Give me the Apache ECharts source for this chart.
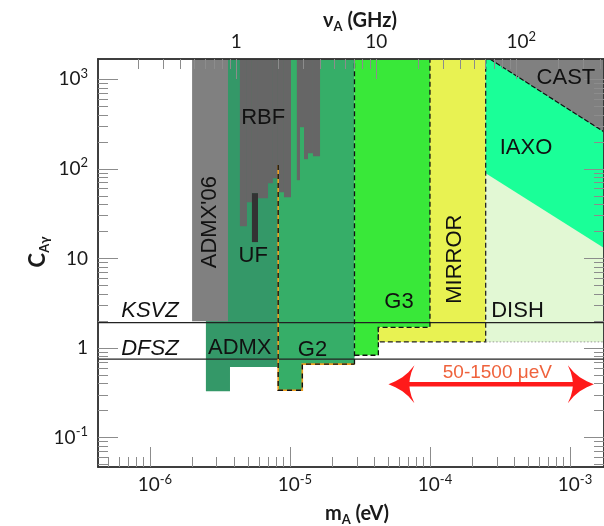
<!DOCTYPE html>
<html>
<head>
<meta charset="utf-8">
<script src="https://cdn.jsdelivr.net/npm/echarts@6/dist/echarts.min.js"></script>
<style>
  html, body { margin: 0; padding: 0; background: #fff; }
  #chart { width: 604px; height: 526px; }
</style>
</head>
<body>
<div id="chart"></div>
<script>
  // plot window: axion mass m_A (eV) and coupling C_Agamma
  const massRange = [4.256e-7, 1.75e-3]
  const coupRange = [0.047, 1679]
  const TOP = coupRange[1]
  const RIGHT = massRange[1]

  // tick labels
  const massTicks = [1e-6, 1e-5, 1e-4, 1e-3]
  const massTickLabels = ['10{s|-6}', '10{s|-5}', '10{s|-4}', '10{s|-3}']
  const freqTicks = [1, 10, 100] // GHz
  const freqTickLabels = ['1', '10', '10{s|2}']
  const coupTicks = [0.1, 1, 10, 100, 1000]
  const coupTickLabels = ['10{s|-1}', '1', '10', '10{s|2}', '10{s|3}']

  // model lines
  const ksvz = 1.92
  const dfsz = 0.75

  // excluded / projected regions, corners as [m (eV), C]
  const admx06 = [[2.0e-6, 1.99], [3.61e-6, 1.99], [3.61e-6, TOP], [2.0e-6, TOP]]
  const admx = [[2.51e-6, TOP], [2.51e-6, 0.33], [3.73e-6, 0.33], [3.73e-6, 0.615], [8.24e-6, 0.615], [8.24e-6, TOP]]
  const g2 = [[8.24e-6, TOP], [8.24e-6, 0.338], [1.225e-5, 0.338], [1.225e-5, 0.66], [2.89e-5, 0.66], [2.89e-5, TOP]]
  const g3 = [[2.89e-5, TOP], [2.89e-5, 0.83], [4.28e-5, 0.83], [4.28e-5, 1.7], [1.0e-4, 1.7], [1.0e-4, TOP]]
  const mirror = [[4.28e-5, 1.7], [4.28e-5, 1.17], [2.5e-4, 1.17], [2.5e-4, TOP], [1.0e-4, TOP], [1.0e-4, 1.7]]
  const dish = [[2.5e-4, 1.17], [RIGHT, 1.17], [RIGHT, TOP], [2.5e-4, TOP]]
  const iaxo = [[2.5e-4, TOP], [2.5e-4, 89], [RIGHT, 13.1], [RIGHT, TOP]]
  const cast = [[2.68e-4, TOP], [RIGHT, 258], [RIGHT, TOP]]
  const uf = [[5.35e-6, 15.2], [5.91e-6, 15.2], [5.91e-6, 53.5], [5.35e-6, 53.5]]

  // RBF: [m from, m to, lower C] (filled up to the top)
  const rbfBins = [
    [4.39e-6, 4.93e-6, 22.9],
    [4.93e-6, 5.35e-6, 42.4],
    [5.35e-6, 5.91e-6, 53.5],
    [5.91e-6, 6.97e-6, 47],
    [6.97e-6, 7.56e-6, 69],
    [7.56e-6, 8.21e-6, 78.5],
    [8.21e-6, 9.06e-6, 54.8],
    [9.06e-6, 1.017e-5, 48.2],
    [1.12e-5, 1.18e-5, 74.6],
    [1.18e-5, 1.26e-5, 291],
    [1.26e-5, 1.345e-5, 128],
    [1.345e-5, 1.46e-5, 149],
    [1.46e-5, 1.64e-5, 138]
  ]

  // dashed boundaries
  const g2Edge = [[8.24e-6, 110], [8.24e-6, 0.338], [1.225e-5, 0.338], [1.225e-5, 0.66], [2.89e-5, 0.66]]
  const g2Right = [[2.89e-5, 0.66], [2.89e-5, TOP]]
  const g3Edge = [[2.89e-5, 0.83], [4.28e-5, 0.83], [4.28e-5, 1.7], [1.0e-4, 1.7], [1.0e-4, TOP]]
  const mirrorEdge = [[4.28e-5, 1.7], [4.28e-5, 1.17], [2.5e-4, 1.17], [2.5e-4, TOP]]
  const castEdge = [[2.68e-4, TOP], [RIGHT, 258]]
  const dishEdge = [[2.5e-4, 1.17], [RIGHT, 1.17]]

  // annotation
  const arrowSpan = [5.05e-5, 1.48e-3]
  const arrowC = 0.394

  const regionLabels = [
    { text: 'RBF', m: 6.44e-6, c: 372 },
    { text: "ADMX'06", m: 2.70e-6, c: 25.4, rot: true },
    { text: 'UF', m: 5.47e-6, c: 10.7 },
    { text: 'ADMX', m: 4.38e-6, c: 1.0 },
    { text: 'G2', m: 1.45e-5, c: 0.96 },
    { text: 'G3', m: 6.01e-5, c: 3.24 },
    { text: 'MIRROR', m: 1.51e-4, c: 9.8, rot: true },
    { text: 'DISH', m: 4.22e-4, c: 2.61 },
    { text: 'IAXO', m: 4.85e-4, c: 172 },
    { text: 'CAST', m: 9.36e-4, c: 1026 },
    { text: 'KSVZ', m: 1.0e-6, c: 2.58, italic: true },
    { text: 'DFSZ', m: 1.0e-6, c: 0.97, italic: true },
    { text: '50-1500 \u03bceV', m: 3.03e-4, c: 0.53, color: '#ef623c', size: 19 }
  ]

  const lg = Math.log10
  const EV_PER_GHZ = 4.1357e-6
  const XMIN = lg(massRange[0]), XMAX = lg(massRange[1])
  const YMIN = lg(coupRange[0]), YMAX = lg(coupRange[1])
  const FMIN = XMIN - lg(EV_PER_GHZ), FMAX = XMAX - lg(EV_PER_GHZ)

  function minorTicks(lo, hi) {
    const out = []
    for (let n = Math.floor(lo); n <= Math.ceil(hi); n++) {
      for (let k = 2; k <= 9; k++) {
        const v = n + lg(k)
        if (v > lo && v < hi) out.push(v)
      }
    }
    return out
  }

  function pickLabel(ticks, labels) {
    return function (v) {
      const i = ticks.findIndex(t => Math.abs(lg(t) - v) < 1e-6)
      return i < 0 ? '' : labels[i]
    }
  }

  const tickFont = 'Lato'
  const rich = {
    s: { fontSize: 13, lineHeight: 13, verticalAlign: 'top', fontFamily: tickFont, color: '#1a1a1a' },
    h: { width: 10 }
  }

  function axis(pos, min, max, values, len, label) {
    return {
      type: 'value', position: pos, min: min, max: max, z: 5,
      axisLine: { show: true, onZero: false, lineStyle: { color: '#333', width: 1.5 } },
      axisTick: { show: true, inside: true, length: len, customValues: values, lineStyle: { color: '#8c8c8c', width: 1 } },
      axisLabel: label ? Object.assign({
        show: true, customValues: values, color: '#1a1a1a', fontFamily: tickFont, fontSize: 19,
        lineHeight: 24, rich: rich
      }, label) : { show: false },
      splitLine: { show: false },
      minorTick: { show: false }
    }
  }

  const massMajor = massTicks.map(lg)
  const freqMajor = freqTicks.map(lg)
  const coupMajor = coupTicks.map(lg)

  const xAxes = [
    axis('bottom', XMIN, XMAX, massMajor, 20, {
      margin: 6, formatter: v => '{h|}' + pickLabel(massTicks, massTickLabels)(v)
    }),
    axis('bottom', XMIN, XMAX, minorTicks(XMIN, XMAX), 10),
    axis('top', FMIN, FMAX, freqMajor, 20, {
      margin: 5, formatter: v => { const t = pickLabel(freqTicks, freqTickLabels)(v); return t.indexOf('{') >= 0 ? '{h|}' + t : t }
    }),
    axis('top', FMIN, FMAX, minorTicks(FMIN, FMAX), 10)
  ]
  const yAxes = [
    axis('left', YMIN, YMAX, coupMajor, 20, { margin: 10, formatter: pickLabel(coupTicks, coupTickLabels) }),
    axis('left', YMIN, YMAX, minorTicks(YMIN, YMAX), 10),
    axis('right', YMIN, YMAX, coupMajor, 20),
    axis('right', YMIN, YMAX, minorTicks(YMIN, YMAX), 10)
  ]

  const fills = [
    { pts: dish, color: '#e2f8d4' },
    { pts: admx, color: '#349868' },
    { pts: g2, color: '#36ae68' },
    { pts: g3, color: '#39e839' },
    { pts: mirror, color: '#e8f252' },
    { pts: iaxo, color: '#1aff98' },
    { pts: cast, color: '#808080' },
    { pts: admx06, color: '#808080' }
  ]
  rbfBins.forEach(b => fills.push({ pts: [[b[0], b[2]], [b[1], b[2]], [b[1], TOP], [b[0], TOP]], color: '#666666' }))
  fills.push({ pts: uf, color: '#333333' })

  const edges = [
    { pts: g2Edge, color: '#f0a020', width: 1.6 },
    { pts: g2Edge, color: '#111', width: 1.4, dash: [5, 4] },
    { pts: g2Right, color: '#111', width: 1.3, dash: [5, 3] },
    { pts: g3Edge, color: '#111', width: 1.3, dash: [5, 3] },
    { pts: mirrorEdge, color: '#222', width: 1.3, dash: [5, 3] },
    { pts: castEdge, color: '#111', width: 1.2, dash: [5, 2] },
    { pts: dishEdge, color: '#999', width: 1, dash: [1.5, 2] }
  ]

  function toPx(api, p) {
    return api.coord([lg(p[0]), lg(p[1])])
  }

  const anchor = [lg(1e-5), 0]
  const chart = echarts.init(document.getElementById('chart'), null, { renderer: 'canvas' })

  const nameRich = {
    b: { fontFamily: tickFont, fontWeight: 'bold', fontSize: 20, fill: '#1a1a1a', lineHeight: 24 },
    u: { fontFamily: tickFont, fontWeight: 'bold', fontSize: 13, fill: '#1a1a1a', lineHeight: 13, verticalAlign: 'bottom' }
  }

  chart.setOption({
    animation: false,
    backgroundColor: '#fff',
    grid: { left: 98, top: 59, right: 0, bottom: 59, containLabel: false },
    xAxis: xAxes,
    yAxis: yAxes,
    graphic: [
      { type: 'text', x: 360, y: 21, style: { text: '{b|\u03bd}{u|A}{b| (GHz)}', align: 'center', verticalAlign: 'middle', rich: nameRich } },
      { type: 'text', x: 357, y: 514, style: { text: '{b|m}{u|A}{b| (eV)}', align: 'center', verticalAlign: 'middle', rich: nameRich } },
      {
        type: 'text', x: 38, y: 252, rotation: Math.PI / 2,
        style: {
          text: '{c|C}{u|A\u03b3}', align: 'center', verticalAlign: 'middle',
          rich: Object.assign({ c: { fontFamily: tickFont, fontWeight: 'bold', fontSize: 22, fill: '#1a1a1a', lineHeight: 26 } }, nameRich)
        }
      }
    ],
    series: [
      {
        type: 'custom', name: 'regions', silent: true, z: 2,
        data: fills.map(() => anchor),
        renderItem: function (params, api) {
          const r = fills[params.dataIndex]
          return { type: 'polygon', shape: { points: r.pts.map(p => toPx(api, p)) }, style: { fill: r.color } }
        }
      },
      {
        type: 'line', name: 'KSVZ', silent: true, z: 3, symbol: 'none',
        data: [[XMIN, lg(ksvz)], [XMAX, lg(ksvz)]],
        lineStyle: { color: '#222', width: 1.2 }
      },
      {
        type: 'line', name: 'DFSZ', silent: true, z: 3, symbol: 'none',
        data: [[XMIN, lg(dfsz)], [XMAX, lg(dfsz)]],
        lineStyle: { color: '#222', width: 1.2 }
      },
      {
        type: 'custom', name: 'edges', silent: true, z: 4,
        data: edges.map(() => anchor),
        renderItem: function (params, api) {
          const e = edges[params.dataIndex]
          return {
            type: 'polyline', shape: { points: e.pts.map(p => toPx(api, p)) },
            style: { fill: null, stroke: e.color, lineWidth: e.width, lineDash: e.dash || null }
          }
        }
      },
      {
        type: 'custom', name: 'arrow', silent: true, z: 6,
        data: [anchor],
        renderItem: function (params, api) {
          const a = api.coord([lg(arrowSpan[0]), lg(arrowC)])
          const b = api.coord([lg(arrowSpan[1]), lg(arrowC)])
          // swept arrow head, tip at origin pointing left
          const head = [[0, 0], [7, -3], [14, -7], [20, -12], [26, -19], [23, -12], [21.5, -6], [21, -2],
            [21, 2], [21.5, 6], [23, 12], [26, 19], [20, 12], [14, 7], [7, 3]]
          const red = '#ff1a1a'
          return {
            type: 'group',
            children: [
              { type: 'line', shape: { x1: a[0] + 15, y1: a[1], x2: b[0] - 15, y2: b[1] }, style: { stroke: red, lineWidth: 4.3 } },
              { type: 'polygon', shape: { points: head.map(p => [a[0] + p[0], a[1] + p[1]]) }, style: { fill: red } },
              { type: 'polygon', shape: { points: head.map(p => [b[0] - p[0], b[1] + p[1]]) }, style: { fill: red } }
            ]
          }
        }
      },
      {
        type: 'custom', name: 'labels', silent: true, z: 7,
        data: regionLabels.map(() => anchor),
        renderItem: function (params, api) {
          const l = regionLabels[params.dataIndex]
          const p = toPx(api, [l.m, l.c])
          return {
            type: 'text', x: p[0], y: p[1], rotation: l.rot ? Math.PI / 2 : 0,
            style: {
              text: l.text, align: 'center', verticalAlign: 'middle',
              fontFamily: 'Liberation Sans', fontSize: l.size || 22,
              fontStyle: l.italic ? 'italic' : 'normal',
              fill: l.color || '#111'
            }
          }
        }
      }
    ]
  })
</script>
</body>
</html>
